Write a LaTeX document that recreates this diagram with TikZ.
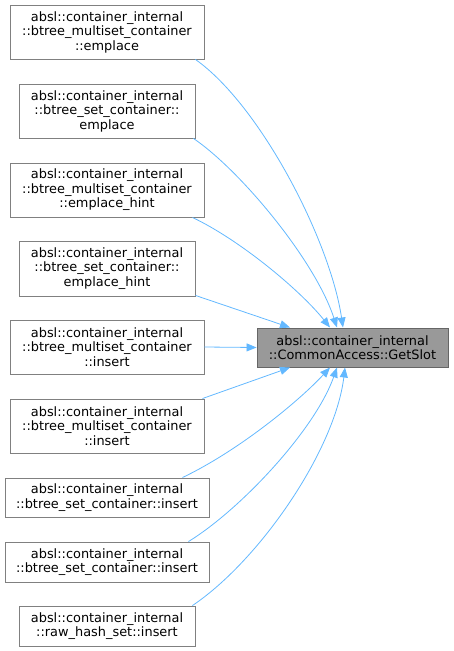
\documentclass[tikz,border=0pt]{standalone}
\usepackage{fontspec}
\setmainfont{DejaVu Sans}
\usetikzlibrary{arrows.meta}
\definecolor{edgeblue}{HTML}{63B8FF}
\definecolor{boxline}{HTML}{808080}
\definecolor{targetfill}{HTML}{999999}
\definecolor{targetline}{HTML}{666666}
\begin{document}
\begin{tikzpicture}[x=1pt,y=-1pt,
  fn/.style={draw=boxline,line width=0.9pt,fill=white,align=center,inner sep=0pt,
    font=\fontsize{12.9}{14.5}\selectfont,text=black},
  tgt/.style={fn,fill=targetfill,draw=targetline},
  call/.style={draw=edgeblue,line width=0.8pt,-{Triangle[length=10pt,width=8pt]},fill=none}]
\useasboundingbox (0,0) rectangle (453,651);
\node[fn,minimum width=194pt,minimum height=54pt] (n1) at (107,32) {absl::container\_internal\\::btree\_multiset\_container\\::emplace};
\node[fn,minimum width=176pt,minimum height=54pt] (n2) at (107,111) {absl::container\_internal\\::btree\_set\_container::\\emplace};
\node[fn,minimum width=194pt,minimum height=54pt] (n3) at (107,190) {absl::container\_internal\\::btree\_multiset\_container\\::emplace\_hint};
\node[fn,minimum width=176pt,minimum height=55pt] (n4) at (107,268.5) {absl::container\_internal\\::btree\_set\_container::\\emplace\_hint};
\node[fn,minimum width=194pt,minimum height=54pt] (n5) at (107,347) {absl::container\_internal\\::btree\_multiset\_container\\::insert};
\node[fn,minimum width=194pt,minimum height=54pt] (n6) at (107,426) {absl::container\_internal\\::btree\_multiset\_container\\::insert};
\node[fn,minimum width=204pt,minimum height=39pt] (n7) at (107,497.5) {absl::container\_internal\\::btree\_set\_container::insert};
\node[fn,minimum width=204pt,minimum height=40pt] (n8) at (107,562) {absl::container\_internal\\::btree\_set\_container::insert};
\node[fn,minimum width=176pt,minimum height=40pt] (n9) at (107,626) {absl::container\_internal\\::raw\_hash\_set::insert};
\node[tgt,minimum width=191pt,minimum height=39pt] (t) at (352.5,347.5) {absl::container\_internal\\::CommonAccess::GetSlot};
% connectors
\coordinate (e1) at (343,327.5);
\coordinate (e2) at (337,327.5);
\coordinate (e3) at (330,327.5);
\coordinate (e4) at (290,327.5);
\coordinate (e6) at (290,367.5);
\coordinate (e7) at (330,367.5);
\coordinate (e8) at (337,367.5);
\coordinate (e9) at (345,367.5);
\draw[call] ([xshift=-9pt]n1.south east) .. controls (260,105) and (330,240) .. (e1);
\draw[call] ([xshift=-2pt]n2.south east) .. controls (240,170) and (315,260) .. (e2);
\draw[call] ([xshift=-12pt]n3.south east) .. controls (240,240) and (300,290) .. (e3);
\draw[call] ([yshift=1pt]n4.south east) -- (e4);
\draw[call] (n5.east) -- (t.west);
\draw[call] ([xshift=-2pt]n6.north east) -- (e6);
\draw[call] ([xshift=-27pt]n7.north east) .. controls (240,450) and (300,400) .. (e7);
\draw[call] ([xshift=-21pt]n8.north east) .. controls (240,510) and (315,430) .. (e8);
\draw[call] ([xshift=-3pt]n9.north east) .. controls (260,560) and (335,450) .. (e9);
\end{tikzpicture}
\end{document}
